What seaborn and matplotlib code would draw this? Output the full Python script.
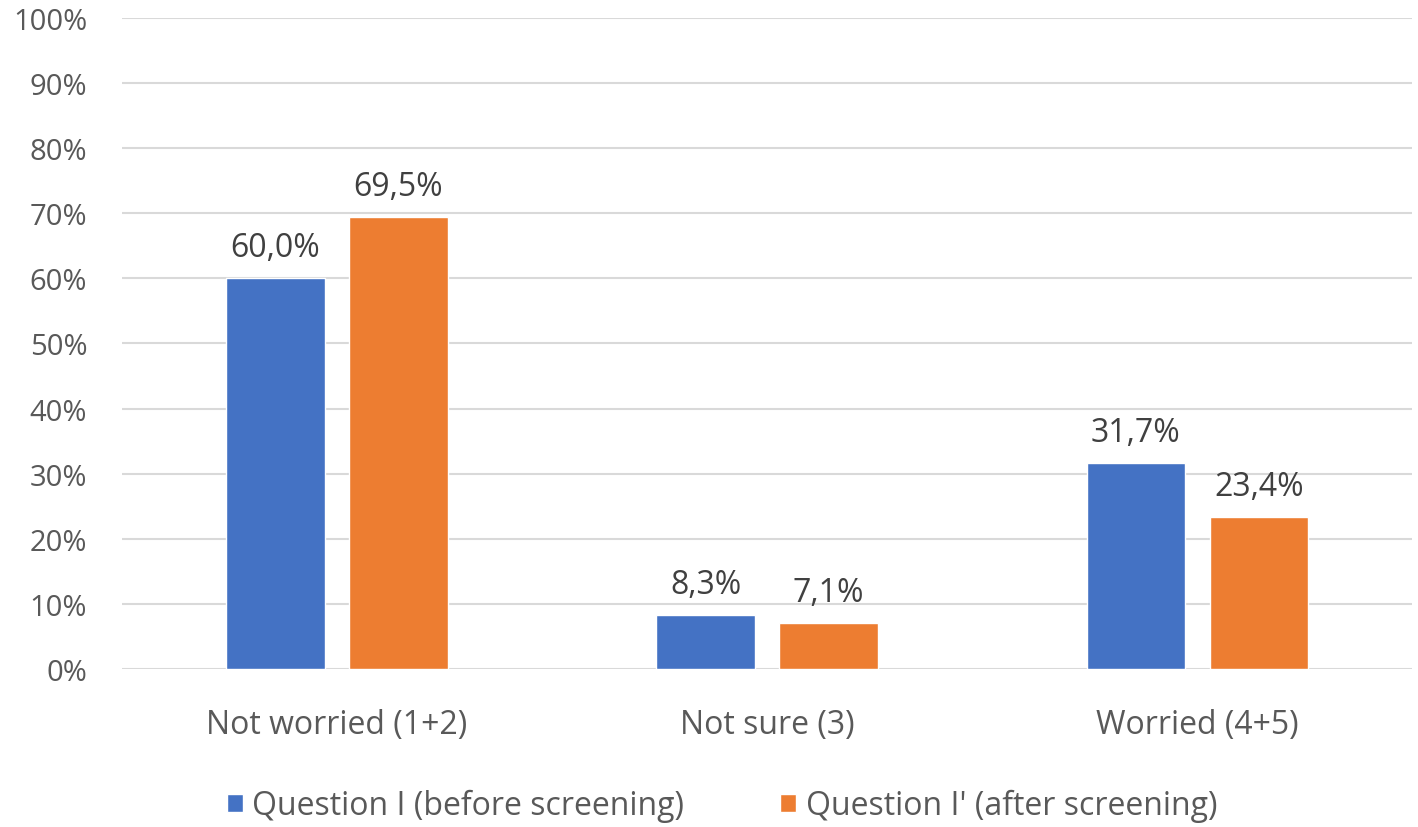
import seaborn as sns
import matplotlib.pyplot as plt
import pandas as pd

# chart data
categories = ['Not worried (1+2)', 'Not sure (3)', 'Worried (4+5)']
series = ["Question I (before screening)", "Question I' (after screening)"]
before = [60.0, 8.3, 31.7]
after = [69.5, 7.1, 23.4]
y_ticks = list(range(0, 101, 10))

df = pd.DataFrame({
    'category': categories * 2,
    'series': [series[0]] * 3 + [series[1]] * 3,
    'value': before + after,
})

sns.set_style('white')
plt.rcParams['font.family'] = ['Open Sans', 'DejaVu Sans']
text_color = '#595959'

fig = plt.figure(figsize=(14.18, 8.28), dpi=100)
ax = fig.add_axes([0.086, 0.191, 0.910, 0.786])

sns.barplot(data=df, x='category', y='value', hue='series',
            palette=['#4472C4', '#ED7D31'], width=0.572, gap=0.2,
            saturation=1, ax=ax, zorder=3)

for container in ax.containers:
    ax.bar_label(container, labels=[f'{v:.1f}%'.replace('.', ',') for v in container.datavalues],
                 padding=10, fontsize=23, color='#404040')

ax.set_ylim(0, 100)
ax.set_xlim(-0.5, 2.5)
ax.set_yticks(y_ticks)
ax.set_yticklabels([f'{t}%' for t in y_ticks])
ax.yaxis.grid(True, color='#D9D9D9', linewidth=1.5, zorder=0)
ax.set_axisbelow(True)
for s in ax.spines.values():
    s.set_visible(False)
ax.tick_params(axis='y', labelsize=21, colors=text_color, length=0, pad=25)
ax.tick_params(axis='x', labelsize=23, colors=text_color, length=0, pad=28)
ax.set_xlabel('')
ax.set_ylabel('')

ax.legend(loc='upper center', bbox_to_anchor=(0.465, -0.14), ncol=2, frameon=False,
          fontsize=23, labelcolor=text_color, handlelength=0.5, handleheight=0.5,
          handletextpad=0.3, columnspacing=3.0)

fig.savefig('out.png', dpi=100)
